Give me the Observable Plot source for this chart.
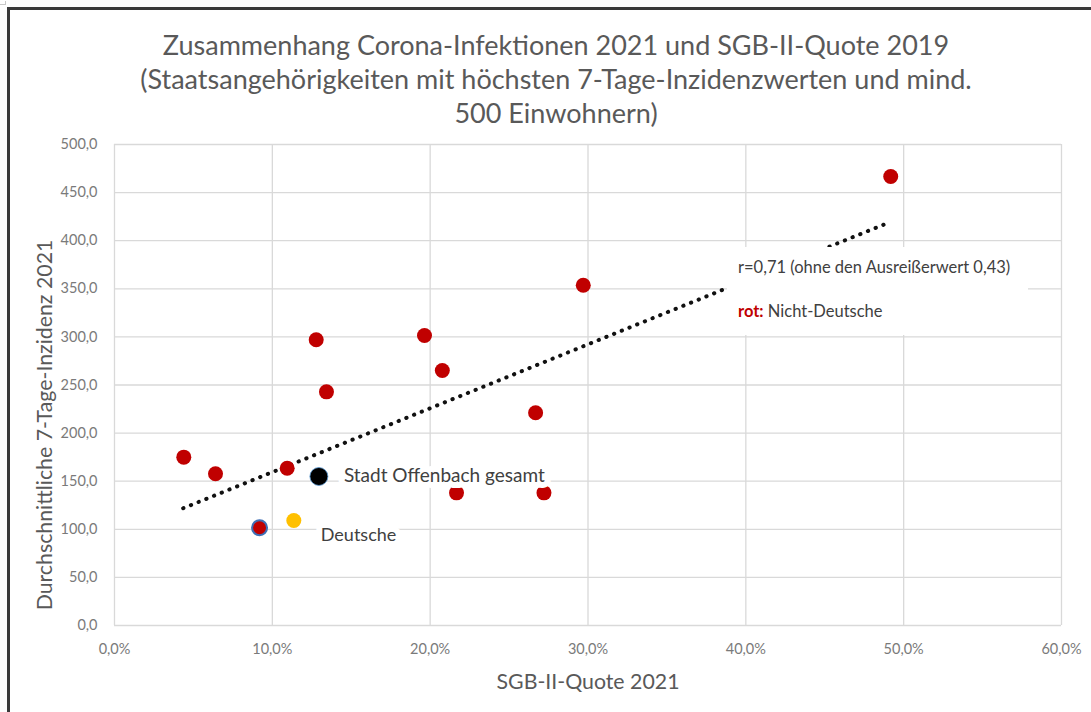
<!DOCTYPE html>
<html><head><meta charset="utf-8">
<script src="https://cdn.jsdelivr.net/npm/d3@7"></script>
<script src="https://cdn.jsdelivr.net/npm/@observablehq/plot@0.6"></script>
<style>
body{margin:0;width:1091px;height:712px;overflow:hidden;background:#fff;font-family:Lato,"Open Sans",sans-serif;position:relative}
#frame{position:absolute;left:7px;top:7px;width:1200px;height:800px;border-left:3px solid #3a3a3a;border-top:3px solid #3a3a3a;box-sizing:border-box}
#corner{position:absolute;left:0;top:1px;width:5px;height:3px;border-right:1px solid #c8c8c8;border-bottom:1px solid #c8c8c8}
#title{position:absolute;left:0;top:28px;width:1112px;text-align:center;color:#595959;font-size:27px;line-height:34px}
#chart{position:absolute;left:0;top:130px}
#note{position:absolute;left:727px;top:247px;width:301px;height:88px;background:#fff;font-size:16.5px;color:#404040}
#note div{position:absolute;left:11px;white-space:nowrap}
</style></head>
<body>
<div id="corner"></div>
<div id="frame"></div>
<div id="title">
<div>Zusammenhang Corona-Infektionen 2021 und SGB-II-Quote 2019</div>
<div>(Staatsangehörigkeiten mit höchsten 7-Tage-Inzidenzwerten und mind.</div>
<div>500 Einwohnern)</div>
</div>
<div id="chart"></div>
<div id="note">
<div style="top:10px">r=0,71 (ohne den Ausreißerwert 0,43)</div>
<div style="top:54px"><span style="color:#c00000;font-weight:bold">rot:</span> Nicht-Deutsche</div>
</div>
<script>
// Nicht-Deutsche (rot)
const sgbQuote = [4.39, 6.40, 9.19, 10.94, 12.78, 13.43, 19.64, 20.77, 21.67, 26.68, 27.21, 29.70, 49.18];
const inzidenz = [175.0, 157.7, 101.6, 163.5, 297.0, 242.9, 301.5, 265.1, 137.9, 221.1, 137.9, 353.7, 466.7];
const outlinedFlag = [false, false, true, false, false, false, false, false, false, false, false, false, false];
// hervorgehobene Gruppen
const groupNames = ["Stadt Offenbach gesamt", "Deutsche"];
const groupQuote = [12.95, 11.36];
const groupInz = [154.9, 109.1];
// Trendlinie
const trendQuote = [4.35, 48.75];
const trendInz = [121.9, 416.8];
// Achsen
const xTicks = [0, 10, 20, 30, 40, 50, 60];
const yTicks = [0, 50, 100, 150, 200, 250, 300, 350, 400, 450, 500];
const xTitle = "SGB-II-Quote 2021";
const yTitle = "Durchschnittliche 7-Tage-Inzidenz 2021";

const fmtX = d => d.toFixed(1).replace(".", ",") + "%";
const fmtY = d => d.toFixed(1).replace(".", ",");
const red = sgbQuote.map((q, i) => ({q, v: inzidenz[i], outlined: outlinedFlag[i]}));
const special = groupNames.map((name, i) => ({name, q: groupQuote[i], v: groupInz[i]}));
const trend = trendQuote.map((q, i) => ({q, v: trendInz[i]}));

const chart = Plot.plot({
  width: 1091, height: 582,
  marginLeft: 114, marginRight: 30, marginTop: 14, marginBottom: 87,
  style: {fontFamily: "Lato, 'Open Sans', sans-serif", fontSize: "14.5px", color: "#7a7a7a", background: "transparent", overflow: "visible"},
  x: {domain: [0, 60]},
  y: {domain: [0, 500]},
  marks: [
    Plot.gridX(xTicks, {stroke: "#d9d9d9", strokeOpacity: 1, strokeWidth: 1.3}),
    Plot.gridY(yTicks, {stroke: "#d9d9d9", strokeOpacity: 1, strokeWidth: 1.3}),
    Plot.axisX(xTicks, {tickSize: 0, tickPadding: 18, tickFormat: fmtX, label: null, fill: "#7a7a7a"}),
    Plot.axisY(yTicks, {tickSize: 0, tickPadding: 17, tickFormat: fmtY, label: null, fill: "#7a7a7a"}),
    Plot.line(trend, {x: "q", y: "v", stroke: "#111", strokeWidth: 4, strokeLinecap: "round", strokeDasharray: "0.3 8"}),
    Plot.dot(red.filter(d => !d.outlined), {x: "q", y: "v", r: 7.5, fill: "#c00000"}),
    Plot.dot(red.filter(d => d.outlined), {x: "q", y: "v", r: 7.5, fill: "#c00000", stroke: "#3f6fb5", strokeWidth: 2}),
    Plot.text(special.slice(0, 1), {x: "q", y: "v", text: "name", textAnchor: "start", dx: 25, dy: -1, fontSize: 19, fill: "#404040", stroke: "white", strokeWidth: 12}),
    Plot.text(special.slice(1), {x: "q", y: "v", text: "name", textAnchor: "start", dx: 27, dy: 15, fontSize: 18, fill: "#404040", stroke: "white", strokeWidth: 12}),
    Plot.dot(special.slice(0, 1), {x: "q", y: "v", r: 9, fill: "#000", stroke: "#5b9bd5", strokeWidth: 0.8}),
    Plot.dot(special.slice(1), {x: "q", y: "v", r: 7.5, fill: "#ffc000"}),
    Plot.text([yTitle], {frameAnchor: "left", textAnchor: "middle", lineAnchor: "middle", rotate: -90, dx: -69, dy: 40, fontSize: 21.3, fill: "#595959"}),
    Plot.text([xTitle], {frameAnchor: "bottom", textAnchor: "middle", lineAnchor: "middle", dy: 57, fontSize: 21.3, fill: "#595959"})
  ]
});
document.getElementById("chart").appendChild(chart);
</script>
</body></html>
